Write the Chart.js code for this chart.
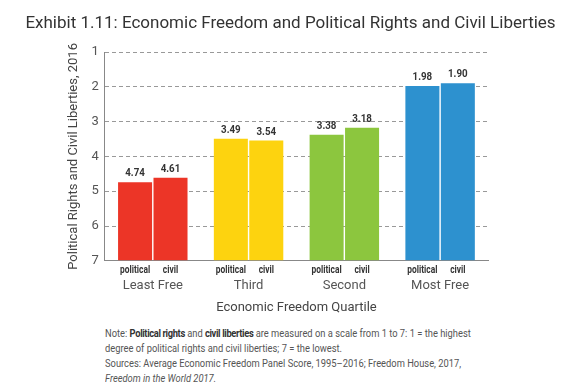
<!DOCTYPE html>
<html>
  <head>
    <title>Economic Freedom and Political Rights</title>
    <script src="https://cdn.jsdelivr.net/npm/chart.js"></script>
    <style>
      body {
        margin: 0;
        background: #fff;
        font-family: Roboto, "Noto Sans", sans-serif;
      }
      .wrap {
        position: relative;
        width: 581px;
        height: 390px;
      }
      #title {
        position: absolute;
        left: 0;
        top: 12px;
        width: 581px;
        text-align: center;
        font-size: 17px;
        line-height: 20px;
        color: #333;
        white-space: nowrap;
      }
      #note {
        position: absolute;
        left: 105px;
        top: 326px;
        width: 540px;
        font-size: 10.5px;
        line-height: 15px;
        color: #555;
        transform: scaleX(0.89);
        transform-origin: left top;
      }
      #note b {
        color: #333;
        letter-spacing: -0.4px;
      }
    </style>
  </head>
  <body>
    <div class="wrap">
      <canvas id="chart" width="581" height="316"></canvas>
      <div id="title">Exhibit 1.11: Economic Freedom and Political Rights and Civil Liberties</div>
      <div id="note">
        Note: <b>Political rights</b> and <b>civil liberties</b> are measured on a scale from 1 to 7: 1 = the highest<br />
        degree of political rights and civil liberties; 7 = the lowest.<br />
        Sources: Average Economic Freedom Panel Score, 1995–2016; Freedom House, 2017,<br />
        <i>Freedom in the World 2017.</i>
      </div>
    </div>

    <script>
      const quartiles = ["Least Free", "Third", "Second", "Most Free"];
      const political = [4.74, 3.49, 3.38, 1.98];
      const civil = [4.61, 3.54, 3.18, 1.9];
      const barColors = ["#ec3527", "#fdd30f", "#8cc63e", "#2d91cf"];
      const seriesNames = ["political", "civil"];
      const yTicks = [1, 2, 3, 4, 5, 6, 7];

      // condensed bold text: squeeze Roboto horizontally
      function narrowText(ctx, text, x, y, size, squeeze) {
        ctx.save();
        ctx.translate(x, y);
        ctx.scale(squeeze, 1);
        ctx.font = "bold " + size + "px Roboto";
        ctx.fillText(text, 0, 0);
        ctx.restore();
      }

      // value above each bar + "political"/"civil" under it
      const barLabels = {
        id: "barLabels",
        afterDatasetsDraw(chart) {
          const ctx = chart.ctx;
          const bottom = chart.chartArea.bottom;
          ctx.save();
          ctx.textAlign = "center";
          ctx.fillStyle = "#333";
          chart.data.datasets.forEach((ds, i) => {
            chart.getDatasetMeta(i).data.forEach((bar, j) => {
              ctx.textBaseline = "bottom";
              narrowText(ctx, ds.data[j].toFixed(2), bar.x, bar.y - 3, 11.5, 0.85);
              ctx.textBaseline = "middle";
              narrowText(ctx, seriesNames[i], bar.x, bottom + 10, 10.5, 0.8);
            });
          });
          ctx.restore();
        },
      };

      new Chart(document.getElementById("chart"), {
        type: "bar",
        data: {
          labels: quartiles,
          datasets: [
            { label: "political", data: political, backgroundColor: barColors, base: 7 },
            { label: "civil", data: civil, backgroundColor: barColors, base: 7 },
          ],
        },
        options: {
          responsive: false,
          animation: false,
          categoryPercentage: 0.74,
          barPercentage: 0.96,
          layout: { padding: { left: 62, right: 93, top: 52, bottom: 0 } },
          plugins: {
            legend: { display: false },
            tooltip: { enabled: false },
          },
          scales: {
            x: {
              grid: { display: false, drawTicks: false, tickLength: 0 },
              border: { display: true, color: "#888", width: 1 },
              ticks: {
                color: "#555",
                padding: 17,
                font: { family: "Roboto", size: 13 },
              },
              title: {
                display: true,
                text: "Economic Freedom Quartile",
                color: "#444",
                font: { family: "Roboto", size: 13 },
                padding: { top: -10, bottom: 0 },
              },
            },
            y: {
              reverse: true,
              min: 1,
              max: 7,
              afterBuildTicks: (scale) => {
                scale.ticks = yTicks.map((v) => ({ value: v }));
              },
              grid: {
                color: "#999",
                drawTicks: false,
              },
              border: { display: true, color: "#888", dash: [4, 3] },
              ticks: {
                color: "#555",
                padding: 6,
                font: { family: "Roboto", size: 13 },
              },
              title: {
                display: true,
                text: "Political Rights and Civil Liberties, 2016",
                color: "#444",
                font: { family: "Roboto", size: 13 },
                padding: { bottom: 4 },
              },
            },
          },
        },
        plugins: [barLabels],
      });
    </script>
  </body>
</html>
